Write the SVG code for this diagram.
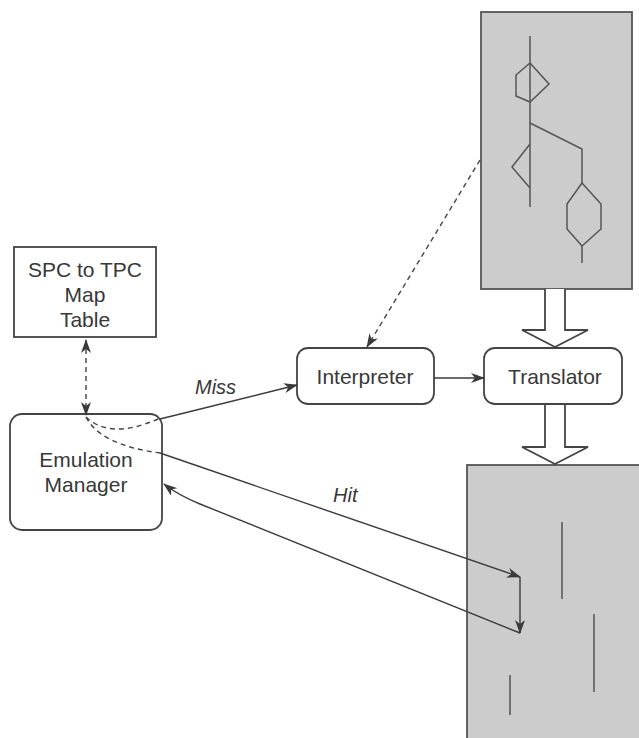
<svg xmlns="http://www.w3.org/2000/svg" width="639" height="738" viewBox="0 0 639 738">
<style>
text{font-family:"Liberation Sans",Arial,sans-serif;font-size:21px;fill:#383838;text-anchor:middle}
.lbl{font-size:20px;font-style:italic;text-anchor:start}
.box{fill:#fff;stroke:#444;stroke-width:1.8}
.gray{fill:#cccccc;stroke:#555;stroke-width:1.8}
.g{fill:none;stroke:#555;stroke-width:1.5}
.ln{fill:none;stroke:#3a3a3a;stroke-width:1.4}
.dash{fill:none;stroke:#444;stroke-width:1.4;stroke-dasharray:5 4}
.blk{fill:#fff;stroke:#444;stroke-width:1.8;stroke-linejoin:miter}
</style>
<defs>
<marker id="ah" viewBox="0 0 14 10" refX="13" refY="5" markerWidth="14" markerHeight="10" markerUnits="userSpaceOnUse" orient="auto-start-reverse">
<path d="M0,0 L14,5 L0,10 L4,5 z" fill="#3a3a3a"/>
</marker>
</defs>
<g id="source-code">
<rect class="gray" x="481" y="12" width="151" height="277"/>
<path class="g" d="M530,36 L530,207"/>
<path class="g" d="M530,63 L549,84 L530,102 L516,96 L516,75 Z"/>
<path class="g" d="M530,123 L582,149 L582,183"/>
<path class="g" d="M530,144 L512,167 L530,188"/>
<path class="g" d="M582,183 L601,204 L601,229 L582,246 L567,229 L567,204 Z"/>
<path class="g" d="M582,246 L582,263"/>
</g>
<g id="target-code">
<rect class="gray" x="467" y="465" width="180" height="280"/>
<path class="g" d="M562,522 L562,599"/>
<path class="g" d="M594,614 L594,692"/>
<path class="g" d="M510,675 L510,715"/>
</g>
<g id="map-table">
<rect class="box" x="14" y="247" width="142" height="90"/>
<text x="85" y="277">SPC to TPC</text>
<text x="85" y="302">Map</text>
<text x="85" y="327">Table</text>
</g>
<g id="emulation-manager">
<rect class="box" x="10" y="414" width="152" height="116" rx="12"/>
<text x="86" y="467">Emulation</text>
<text x="86" y="492">Manager</text>
</g>
<g id="interpreter">
<rect class="box" x="297" y="348" width="137" height="56" rx="11"/>
<text x="365" y="384">Interpreter</text>
</g>
<g id="translator">
<rect class="box" x="484" y="348" width="138" height="56" rx="11"/>
<text x="555" y="384">Translator</text>
</g>
<g id="connectors">
<path class="blk" d="M545,289 L545,330 L522,330 L555,347 L588,330 L565,330 L565,289"/>
<path class="blk" d="M545,405 L545,447 L522,447 L555,464 L588,447 L565,447 L565,405"/>
<path class="dash" d="M86,340 L86,415" marker-start="url(#ah)" marker-end="url(#ah)"/>
<path class="dash" d="M86,417 Q110,440 158,419"/>
<path class="dash" d="M86,417 Q100,445 160,453"/>
<path class="ln" d="M160,419 L297,385" marker-end="url(#ah)"/>
<path class="ln" d="M160,453 L520,577" marker-end="url(#ah)"/>
<path class="ln" d="M520,577 L520,633" marker-end="url(#ah)"/>
<path class="ln" d="M520,633 L200,504 Q178,495 164,484" marker-end="url(#ah)"/>
<path class="ln" d="M434,378 L484,378" marker-end="url(#ah)"/>
<path class="dash" d="M480,160 L367,347" marker-end="url(#ah)"/>
<text class="lbl" x="195" y="394">Miss</text>
<text class="lbl" x="333" y="502">Hit</text>
</g>
</svg>
